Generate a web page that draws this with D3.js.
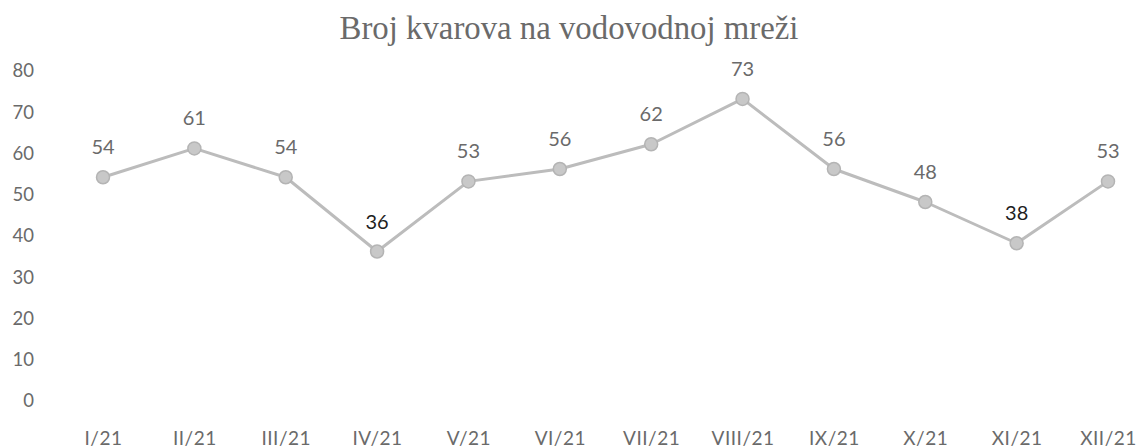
<!DOCTYPE html>
<html><head><meta charset="utf-8">
<script src="https://cdn.jsdelivr.net/npm/d3@7"></script>
<style>html,body{margin:0;padding:0;background:#fff;}svg{display:block;}</style>
</head><body>
<svg id="chart" width="1140" height="447"></svg>
<script>
const title = "Broj kvarova na vodovodnoj mreži";
const categories = ["I/21","II/21","III/21","IV/21","V/21","VI/21","VII/21","VIII/21","IX/21","X/21","XI/21","XII/21"];
const values = [54,61,54,36,53,56,62,73,56,48,38,53];
const darkLabels = ["IV/21","XI/21"];
const yTicks = [0,10,20,30,40,50,60,70,80];

const svg = d3.select("#chart");
const x = d3.scalePoint().domain(categories).range([103,1108]);
const y = d3.scaleLinear().domain([0,80]).range([400,70]);
const sans = "Lato, 'Open Sans', sans-serif";

// title
const t = svg.append("text").attr("x",569).attr("y",39).attr("text-anchor","middle")
  .attr("font-family","'Liberation Serif','Times New Roman',serif").attr("font-size",32)
  .attr("fill","#6a6a6a").text(title);
const w = t.node().getComputedTextLength();
t.attr("font-size", 32*459/w);

// y axis
const yAxis = d3.axisLeft(y).tickValues(yTicks).tickSize(0).tickPadding(0);
const gy = svg.append("g").attr("transform","translate(34,1)").call(yAxis);
gy.select(".domain").remove();
gy.selectAll("text").attr("font-family",sans).attr("font-size",18.5).attr("fill","#6a6a6a");

// x axis
const xAxis = d3.axisBottom(x).tickSize(0).tickPadding(0);
const gx = svg.append("g").attr("transform","translate(0,431)").call(xAxis);
gx.select(".domain").remove();
gx.selectAll("text").attr("font-family",sans).attr("font-size",19).attr("fill","#6a6a6a")
  .attr("letter-spacing",0.5);

// line
const line = d3.line().x((d,i)=>x(categories[i])).y(d=>y(d));
svg.append("path").datum(values).attr("d",line).attr("fill","none")
  .attr("stroke","#bcbcbc").attr("stroke-width",3).attr("stroke-linejoin","round");

svg.selectAll("circle.pt").data(values).join("circle").attr("class","pt")
  .attr("cx",(d,i)=>x(categories[i])).attr("cy",d=>y(d)).attr("r",6.5)
  .attr("fill","#c8c8c8").attr("stroke","#b4b4b4").attr("stroke-width",1.5);

svg.selectAll("text.lbl").data(values).join("text").attr("class","lbl")
  .attr("x",(d,i)=>x(categories[i])).attr("y",d=>y(d)-23)
  .attr("text-anchor","middle").attr("font-family",sans).attr("font-size",20)
  .attr("fill",(d,i)=>darkLabels.includes(categories[i])?"#1e1e1e":"#6a6a6a")
  .text(d=>d);
</script>
</body></html>
